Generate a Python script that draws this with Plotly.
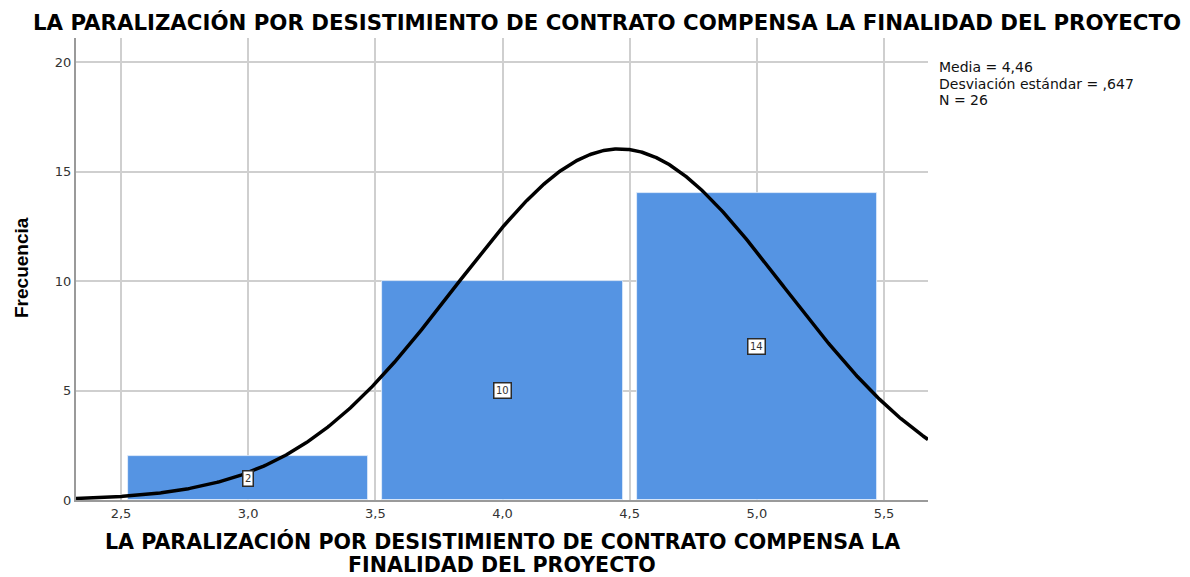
import numpy as np
import plotly.graph_objects as go

# Data
bin_centers = [3.0, 4.0, 5.0]
frequencies = [2, 10, 14]
bar_labels = ["2", "10", "14"]
mean_val = 4.46
sd_val = 0.647
n_val = 26
bin_width = 1.0

x_tick_vals = [2.5, 3.0, 3.5, 4.0, 4.5, 5.0, 5.5]
x_tick_text = ["2,5", "3,0", "3,5", "4,0", "4,5", "5,0", "5,5"]
y_tick_vals = [0, 5, 10, 15, 20]
y_tick_text = ["0", "5", "10", "15", "20"]

title_text = "LA PARALIZACIÓN POR DESISTIMIENTO DE CONTRATO COMPENSA LA FINALIDAD DEL PROYECTO"
x_title_lines = ["LA PARALIZACIÓN POR DESISTIMIENTO DE CONTRATO COMPENSA LA", "FINALIDAD DEL PROYECTO"]
y_title = "Frecuencia"
stats_lines = ["Media = 4,46", "Desviación estándar = ,647", "N = 26"]

x_min, x_max = 2.323, 5.673
y_min, y_max = 0, 21.1

# page offset (browser body margin)
OFF = 8
W, H = 1190, 577
ML, MT = 76 - OFF, 38 - OFF
PW, PH = 852, 462
MR = W - ML - PW
MB = H - MT - PH

def px(page_x):
    return (page_x - OFF - ML) / PW

def py(page_y):
    return (MT + PH - (page_y - OFF)) / PH

# Fitted normal curve (as drawn by SPSS)
xc = np.linspace(x_min, x_max, 600)
yc = n_val * bin_width / (sd_val * np.sqrt(2 * np.pi)) * np.exp(-0.5 * ((xc - mean_val) / sd_val) ** 2)

fig = go.Figure()
fig.add_trace(go.Bar(
    x=bin_centers, y=frequencies, width=0.945,
    marker=dict(color="#5594e3", line=dict(color="#e8f0fb", width=0.8)),
    hoverinfo="skip", showlegend=False,
))
fig.add_trace(go.Scatter(
    x=xc, y=yc, mode="lines", line=dict(color="black", width=3.5),
    hoverinfo="skip", showlegend=False,
))

for xv, fv, lab in zip(bin_centers, frequencies, bar_labels):
    fig.add_annotation(
        x=xv, y=fv / 2, text=lab, showarrow=False,
        font=dict(family="DejaVu Sans", size=10, color="#333333"),
        bgcolor="white", bordercolor="#2a2a2a", borderwidth=1.5, borderpad=1.5,
    )

for i, line in enumerate(stats_lines):
    fig.add_annotation(
        xref="paper", yref="paper", x=px(938), y=py(67 + 16.5 * i),
        xanchor="left", yanchor="middle", text=line, showarrow=False, align="left",
        borderpad=0,
        font=dict(family="DejaVu Sans", size=14, color="#111111"),
    )

for i, line in enumerate(x_title_lines):
    fig.add_annotation(
        xref="paper", yref="paper", x=0.5, y=py(528 + 24 * i),
        xanchor="center", yanchor="top", text="<b>" + line + "</b>", showarrow=False,
        borderpad=0,
        font=dict(family="DejaVu Sans", size=20.6, color="black"),
    )

fig.add_annotation(
    xref="paper", yref="paper", x=px(21), y=py(268),
    xanchor="center", yanchor="middle", text="<b>" + y_title + "</b>", showarrow=False,
    textangle=-90,
    font=dict(family="Liberation Sans", size=19, color="black"),
)

fig.update_layout(
    width=W, height=H,
    paper_bgcolor="white", plot_bgcolor="white",
    margin=dict(l=ML, r=MR, t=MT, b=MB, autoexpand=False),
    title=dict(
        text="<b>" + title_text + "</b>", x=(607 - OFF) / W, xanchor="center",
        y=1 - (23 - OFF) / H, yanchor="middle",
        font=dict(family="DejaVu Sans", size=21.3, color="black"),
    ),
    font=dict(family="DejaVu Sans", size=13, color="#333333"),
    bargap=0,
)

fig.update_xaxes(
    range=[x_min, x_max], tickvals=x_tick_vals, ticktext=x_tick_text,
    showgrid=True, gridcolor="#cfcfcf", gridwidth=1.5,
    showline=True, linecolor="#9a9a9a", linewidth=2,
    ticks="", zeroline=False, automargin=False,
    tickfont=dict(family="DejaVu Sans", size=13, color="#333333"),
)
fig.update_yaxes(
    range=[y_min, y_max], tickvals=y_tick_vals, ticktext=y_tick_text,
    showgrid=True, gridcolor="#cfcfcf", gridwidth=1.5,
    showline=True, linecolor="#9a9a9a", linewidth=2,
    ticks="", zeroline=False, automargin=False,
    tickfont=dict(family="DejaVu Sans", size=13, color="#333333"),
)

fig.write_html("out.html")
